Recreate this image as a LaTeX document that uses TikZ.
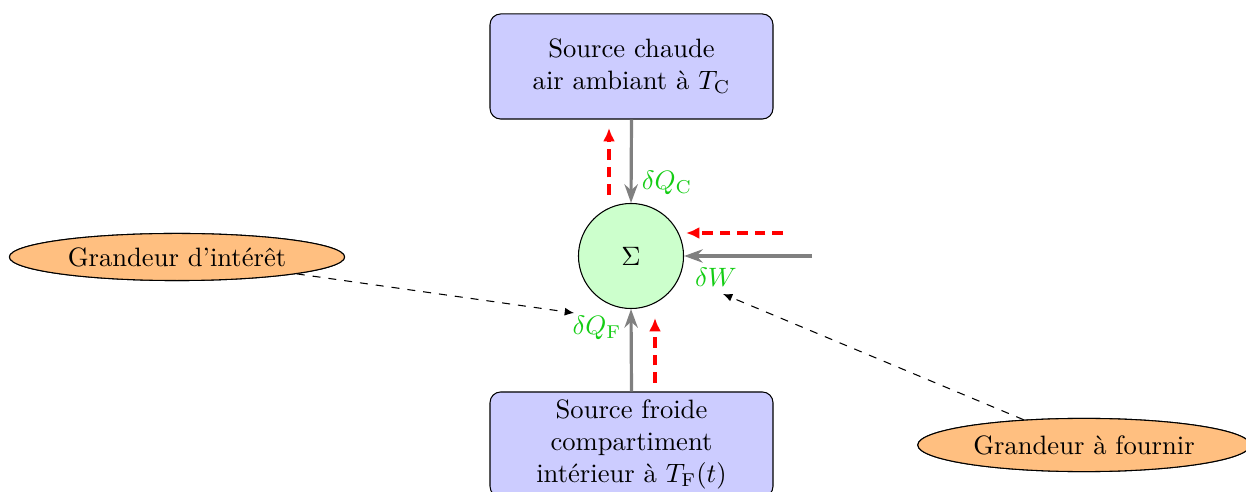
\documentclass[tikz,border=0pt]{standalone}
\usetikzlibrary{arrows.meta,shapes.geometric}
\definecolor{lblgreen}{RGB}{20,205,20}
\tikzset{
  srcbox/.style={draw, rounded corners=4pt, fill=blue!20, minimum width=106.4pt, minimum height=39.5pt, align=center, inner sep=2pt},
  sysnode/.style={draw, circle, fill=green!20, minimum size=39.5pt, inner sep=0pt},
  quant/.style={draw, ellipse, fill=orange!50, inner sep=0pt},
  flow/.style={gray, very thick, -{Stealth[length=7pt,width=5pt]}},
  heat/.style={red, very thick, dash pattern=on 4pt off 2.6pt, -{Latex[length=5pt,width=4.5pt]}},
  note/.style={black, dashed, -{Latex[length=3.5pt,width=3pt]}},
  lbl/.style={text=lblgreen, inner sep=1pt}
}
\begin{document}
\begin{tikzpicture}[x=0.376pt, y=-0.376pt]
  \useasboundingbox (0,0) rectangle (1246,492);
  \clip (0,0) rectangle (1246,492);
  \node[srcbox] (hot) at (631.5,66.5) {Source chaude\\air ambiant à $T_\mathrm{C}$};
  \node[sysnode] (sys) at (631,256) {$\Sigma$};
  \node[srcbox] (cold) at (631.5,444.5) {Source froide\\compartiment\\intérieur à $T_\mathrm{F}(t)$};
  \node[quant, minimum width=126pt, minimum height=17.7pt] (gi) at (177,257) {Grandeur d'intérêt};
  \node[quant, minimum width=125pt, minimum height=20pt] (gf) at (1084,445) {Grandeur à fournir};

  \node[lbl] (qc) at (667,183) {$\delta Q_\mathrm{C}$};
  \node[lbl] (qf) at (597,328) {$\delta Q_\mathrm{F}$};
  \node[lbl] (dw) at (716,277) {$\delta W$};

  \draw[flow] (hot.south) -- (sys.north);
  \draw[flow] (cold.north) -- (sys.south);
  \coordinate (wsrc) at (812,256);
  \draw[flow] (wsrc) -- (sys.east);

  \coordinate (rc1) at (609,195);
  \coordinate (rc2) at (609,128);
  \draw[heat] (rc1) -- (rc2);
  \coordinate (rw1) at (783,233);
  \coordinate (rw2) at (686,233);
  \draw[heat] (rw1) -- (rw2);
  \coordinate (rf1) at (655,383);
  \coordinate (rf2) at (655,318);
  \draw[heat] (rf1) -- (rf2);

  \coordinate (tipF) at (574,313);
  \coordinate (tipW) at (723,294);
  \draw[note] (gi) -- (tipF);
  \draw[note] (gf) -- (tipW);
  \node[quant, minimum width=126pt, minimum height=17.7pt] at (gi) {Grandeur d'intérêt};
  \node[quant, minimum width=125pt, minimum height=20pt] at (gf) {Grandeur à fournir};
\end{tikzpicture}
\end{document}
